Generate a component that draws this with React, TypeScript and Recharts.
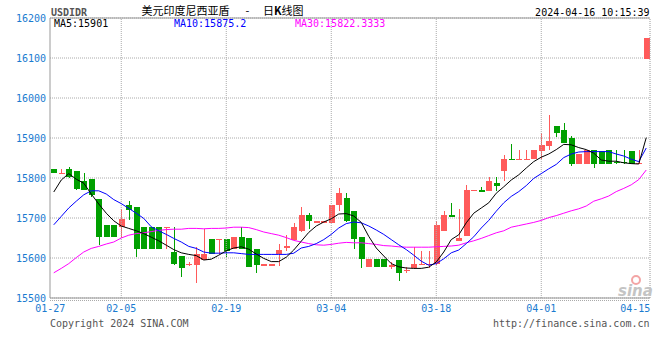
import React from "react"
import { Bar, CartesianGrid, ComposedChart, Line, ReferenceLine, XAxis, YAxis } from "recharts"

// 2024-01-27 .. 2024-04-15, one candle per calendar day
const monthDays: [number, number, number][] = [
  [1, 27, 31],
  [2, 1, 29],
  [3, 1, 31],
  [4, 1, 15],
]
const dates: string[] = []
monthDays.forEach(([m, from, to]) => {
  for (let d = from; d <= to; d++) dates.push(`${String(m).padStart(2, "0")}-${String(d).padStart(2, "0")}`)
})

const open = [
  15822, 15812, 15822, 15817, 15793, 15797, 15747, 15682, 15682, 15677,
  15732, 15727, 15677, 15677, 15677, 15677, 15614, 15606, 15585, 15583,
  15595, 15647, 15647, 15647, 15623, 15652, 15650, 15622, 15580, 15580,
  15611, 15625, 15645, 15666, 15707, 15687, 15687, 15687, 15732, 15749,
  15718, 15652, 15578, 15597, 15597, 15578, 15595, 15569, 15574, 15584,
  15584, 15584, 15666, 15707, 15643, 15656, 15767, 15770, 15766, 15788,
  15816, 15848, 15847, 15847, 15847, 15868, 15880, 15930, 15920, 15901,
  15835, 15835, 15870, 15868, 15870, 15840, 15840, 15867, 15837, 16099,
]
const high = [
  15822, 15822, 15828, 15817, 15813, 15797, 15747, 15682, 15682, 15722,
  15742, 15727, 15677, 15677, 15677, 15677, 15677, 15606, 15590, 15628,
  15672, 15647, 15647, 15647, 15652, 15677, 15650, 15622, 15584, 15584,
  15635, 15657, 15687, 15728, 15713, 15692, 15692, 15732, 15774, 15763,
  15718, 15652, 15597, 15597, 15597, 15591, 15595, 15578, 15628, 15618,
  15618, 15693, 15717, 15738, 15722, 15782, 15770, 15778, 15802, 15802,
  15857, 15885, 15870, 15870, 15870, 15913, 15957, 15930, 15937, 15906,
  15860, 15870, 15870, 15868, 15870, 15870, 15870, 15867, 15870, 16151,
]
const low = [
  15811, 15812, 15801, 15770, 15770, 15752, 15632, 15651, 15651, 15649,
  15695, 15603, 15622, 15622, 15622, 15622, 15583, 15553, 15580, 15538,
  15595, 15609, 15609, 15603, 15623, 15623, 15578, 15563, 15580, 15580,
  15580, 15618, 15645, 15666, 15672, 15687, 15687, 15687, 15716, 15691,
  15624, 15574, 15578, 15578, 15578, 15574, 15543, 15562, 15574, 15584,
  15576, 15584, 15666, 15702, 15643, 15656, 15767, 15766, 15766, 15766,
  15791, 15846, 15847, 15847, 15847, 15847, 15870, 15902, 15887, 15830,
  15835, 15835, 15826, 15835, 15835, 15835, 15835, 15835, 15835, 16099,
]
const close = [
  15811, 15812, 15801, 15772, 15770, 15756, 15651, 15651, 15651, 15698,
  15720, 15622, 15622, 15622, 15622, 15677, 15583, 15576, 15586, 15610,
  15610, 15609, 15647, 15616, 15652, 15623, 15578, 15583, 15584, 15584,
  15620, 15630, 15677, 15707, 15691, 15692, 15692, 15732, 15763, 15691,
  15647, 15597, 15597, 15578, 15578, 15582, 15563, 15571, 15585, 15585,
  15586, 15682, 15707, 15702, 15651, 15770, 15770, 15766, 15792, 15781,
  15847, 15846, 15847, 15847, 15870, 15882, 15892, 15912, 15887, 15835,
  15860, 15870, 15835, 15835, 15835, 15837, 15837, 15835, 15837, 16151,
]

// moving averages as drawn (they start from data before the visible window)
const ma5 = [
  15765, 15795, 15811, 15797, 15787, 15760, 15735, 15712, 15693, 15680,
  15674, 15668, 15661, 15652, 15643, 15632, 15621, 15613, 15609, 15606,
  15595, 15597, 15607, 15618, 15625, 15628, 15622, 15610, 15599, 15591,
  15591, 15602, 15620, 15642, 15664, 15680, 15690, 15698, 15710, 15711,
  15705, 15689, 15654, 15625, 15605, 15586, 15578, 15575, 15574, 15574,
  15577, 15590, 15615, 15646, 15658, 15688, 15712, 15725, 15738, 15762,
  15778, 15795, 15808, 15825, 15841, 15852, 15860, 15871, 15884, 15883,
  15876, 15871, 15862, 15845, 15842, 15842, 15838, 15836, 15835, 15901,
]
const ma10 = [
  15683, 15704, 15725, 15742, 15758, 15768, 15768, 15760, 15746, 15736,
  15724, 15712, 15699, 15678, 15668, 15659, 15649, 15640, 15629, 15624,
  15615, 15612, 15612, 15613, 15613, 15611, 15609, 15609, 15609, 15609,
  15609, 15609, 15612, 15625, 15629, 15636, 15646, 15659, 15675, 15686,
  15690, 15688, 15680, 15670, 15659, 15646, 15633, 15621, 15607, 15592,
  15582, 15586, 15598, 15613, 15620, 15636, 15653, 15675, 15694, 15717,
  15738, 15754, 15766, 15781, 15799, 15811, 15823, 15834, 15851, 15860,
  15865, 15866, 15866, 15866, 15866, 15860, 15855, 15847, 15841, 15875,
]
const ma30 = [
  15563, 15574, 15586, 15601, 15615, 15624, 15629, 15635, 15640, 15650,
  15657, 15661, 15663, 15666, 15669, 15671, 15672, 15672, 15674, 15674,
  15673, 15674, 15674, 15675, 15677, 15677, 15676, 15671, 15665, 15661,
  15657, 15651, 15644, 15640, 15636, 15633, 15632, 15634, 15637, 15639,
  15638, 15638, 15636, 15634, 15631, 15630, 15628, 15627, 15627, 15627,
  15627, 15628, 15629, 15630, 15632, 15638, 15643, 15649, 15656, 15663,
  15668, 15677, 15681, 15685, 15689, 15694, 15701, 15706, 15712, 15718,
  15723, 15730, 15742, 15748, 15755, 15766, 15774, 15783, 15796, 15820,
]

const yTicks = [15500, 15600, 15700, 15800, 15900, 16000, 16100, 16200]
const labelDates = ["01-27", "02-05", "02-19", "03-04", "03-18", "04-01", "04-15"]
const gridDates = ["02-05", "02-19", "03-04", "03-18", "04-01"]

const data = dates.map((date, i) => ({
  date,
  open: open[i],
  high: high[i],
  low: low[i],
  close: close[i],
  ma5: ma5[i],
  ma10: ma10[i],
  ma30: ma30[i],
}))

const UP = "#ff5a5a"
const DOWN = "#00a000"
const BLUE_TEXT = "#1a7bd0"
const MONO = "'DejaVu Sans Mono', monospace"
const CJK = "'Noto Sans CJK SC', sans-serif"

const candleColor = (p: any) => (p.close >= p.open ? UP : DOWN)

const Body = (props: any) => {
  const { x, y, width, height, payload } = props
  const h = Math.max(1, Math.round(height || 0))
  return <rect x={Math.round(x)} y={Math.round(y)} width={Math.round(width)} height={h} fill={candleColor(payload)} />
}

const Wick = (props: any) => {
  const { x, y, width, height, payload } = props
  return (
    <rect x={Math.round(x + width / 2 - 0.5)} y={Math.round(y)} width={1} height={Math.max(1, Math.round(height || 0))} fill={candleColor(payload)} />
  )
}

const DateTick = (props: any) => {
  const { x, y, payload } = props
  let anchor = "middle"
  let dx = 0
  if (payload.value === "01-27") dx = -3.5
  if (payload.value === "04-15") {
    anchor = "end"
    dx = 4
  }
  return (
    <text x={x + dx} y={y} dy={6} textAnchor={anchor} fill={BLUE_TEXT} fontSize={10} fontFamily={MONO}>
      {payload.value}
    </text>
  )
}

export default function App() {
  return (
    <div style={{ position: "fixed", left: 0, top: 0, width: 660, height: 360, background: "#fff" }}>
      <ComposedChart width={660} height={360} data={data} margin={{ top: 18, right: 10, left: 0, bottom: 0 }}>
        <CartesianGrid vertical={false} stroke="#aaa" strokeDasharray="1 1" />
        <XAxis
          dataKey="date"
          height={62}
          ticks={labelDates}
          interval={0}
          tick={<DateTick />}
          tickLine={false}
          tickSize={0}
          tickMargin={8}
          axisLine={{ stroke: "#999" }}
        />
        <XAxis xAxisId="w" dataKey="date" hide />
        <YAxis
          domain={[15500, 16200]}
          ticks={yTicks}
          allowDataOverflow
          width={50}
          tickLine={false}
          tickSize={0}
          tickMargin={4}
          axisLine={{ stroke: "#999" }}
          tick={{ fill: BLUE_TEXT, fontSize: 10, fontFamily: MONO }}
        />
        {gridDates.map((d) => (
          <ReferenceLine key={d} x={d} stroke="#aaa" strokeDasharray="1 1" />
        ))}
        <ReferenceLine y={16200} stroke="#999" />
        <ReferenceLine x="04-15" position="end" stroke="#999" strokeDasharray="1 1" />
        <Bar
          xAxisId="w"
          dataKey={(d: any) => [d.low, d.high]}
          barSize={6}
          shape={<Wick />}
          isAnimationActive={false}
        />
        <Bar
          dataKey={(d: any) => [Math.min(d.open, d.close), Math.max(d.open, d.close)]}
          barSize={6}
          shape={<Body />}
          isAnimationActive={false}
        />
        <Line dataKey="ma30" stroke="#ff00ff" strokeWidth={1} dot={false} isAnimationActive={false} />
        <Line dataKey="ma10" stroke="#0000ff" strokeWidth={1} dot={false} isAnimationActive={false} />
        <Line dataKey="ma5" stroke="#000" strokeWidth={1} dot={false} isAnimationActive={false} />
      </ComposedChart>
      <svg width={660} height={360} style={{ position: "absolute", left: 0, top: 0, pointerEvents: "none" }}>
        <line x1={50} x2={650} y1={300.5} y2={300.5} stroke="#aaa" strokeDasharray="1 1" />
        <text x={51} y={16} fontSize={10} fontFamily={MONO} fontWeight="bold" fill="#555">USDIDR</text>
        <text x={141.5} y={15} fontSize={11} fontFamily={CJK} fill="#000">美元印度尼西亚盾</text>
        <text x={247.5} y={15} textAnchor="middle" fontSize={11} fontFamily={CJK} fill="#000">-</text>
        <text x={263} y={15} fontSize={11} fontFamily={CJK} fill="#000">
          日<tspan fontWeight="bold">K</tspan>线图
        </text>
        <text x={649.5} y={16} textAnchor="end" fontSize={10} fontFamily={MONO} fill="#000">2024-04-16 10:15:39</text>
        <text x={54} y={27} fontSize={10} fontFamily={MONO} fill="#000">MA5:15901</text>
        <text x={174} y={27} fontSize={10} fontFamily={MONO} fill="#0000ff">MA10:15875.2</text>
        <text x={295} y={27} fontSize={10} fontFamily={MONO} fill="#ff00ff">MA30:15822.3333</text>
        <text x={50} y={327} fontSize={10} fontFamily={MONO} fill="#555">Copyright 2024 SINA.COM</text>
        <text x={649.5} y={327} textAnchor="end" fontSize={10} fontFamily={MONO} fill="#555">http://finance.sina.com.cn</text>
        <circle cx={636} cy={280} r={4} fill="none" stroke="#f3a5a5" strokeWidth={2} />
        <text x={618} y={296} fontSize={15} fontStyle="italic" fontWeight="bold" fontFamily="'DejaVu Sans', sans-serif" fill="#c4c4c4">sina</text>
      </svg>
    </div>
  )
}
